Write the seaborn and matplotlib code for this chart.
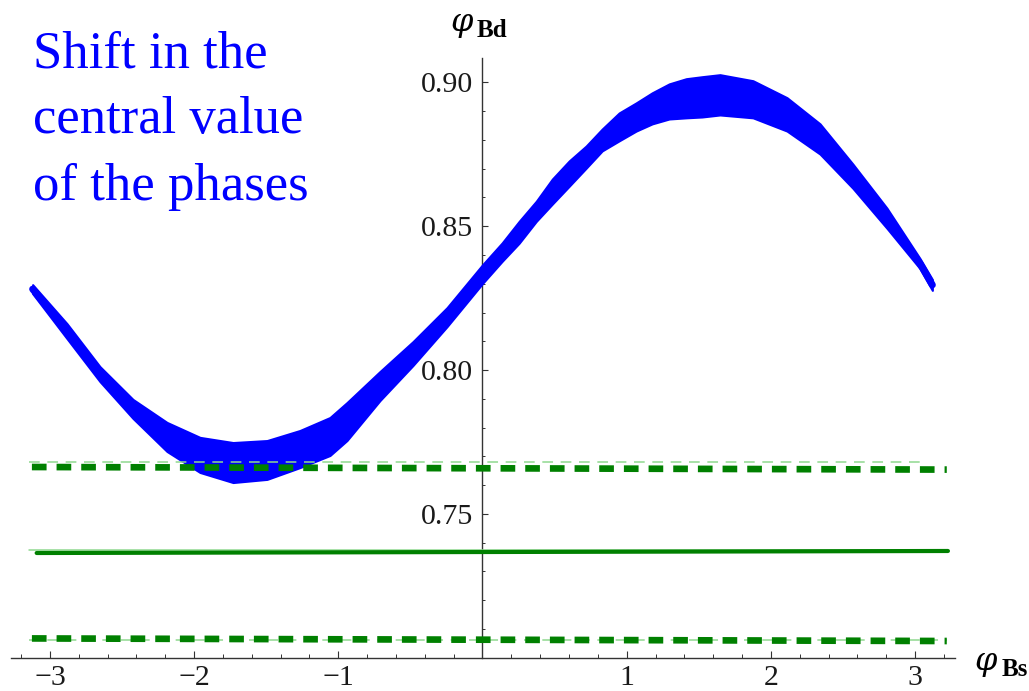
import numpy as np
import pandas as pd
import matplotlib
matplotlib.use("Agg")
import matplotlib.pyplot as plt
import matplotlib.transforms as mtransforms
import seaborn as sns
from matplotlib.ticker import FixedLocator, MultipleLocator, FormatStrFormatter

# ---- data ----
phi_bs = [-3.12, -2.881, -2.653, -2.424, -2.188, -1.959, -1.730, -1.494, -1.266, -1.058,
          -0.940, -0.711, -0.482, -0.246, 0.0, 0.136, 0.254, 0.373, 0.484, 0.601,
          0.719, 0.830, 0.948, 1.066, 1.177, 1.295, 1.413, 1.524, 1.647, 1.876,
          2.112, 2.341, 2.569, 2.805, 3.034, 3.12]
phi_bd_upper = [0.8297, 0.8161, 0.8012, 0.7898, 0.7818, 0.7766, 0.7748, 0.7755, 0.7790, 0.7835,
                0.7887, 0.7995, 0.8099, 0.8217, 0.8366, 0.8442, 0.8517, 0.8587, 0.8664, 0.8727,
                0.8779, 0.8838, 0.8894, 0.8929, 0.8964, 0.8995, 0.9013, 0.9020, 0.9027, 0.9006,
                0.8947, 0.8856, 0.8716, 0.8563, 0.8388, 0.8315]
phi_bd_lower = [0.8266, 0.8109, 0.7960, 0.7832, 0.7717, 0.7644, 0.7609, 0.7620, 0.7661, 0.7703,
                0.7755, 0.7894, 0.8016, 0.8151, 0.8301, 0.8378, 0.8441, 0.8517, 0.8577, 0.8639,
                0.8702, 0.8762, 0.8797, 0.8831, 0.8856, 0.8873, 0.8877, 0.8880, 0.8887, 0.8877,
                0.8831, 0.8751, 0.8632, 0.8493, 0.8353, 0.8277]

limit_x = [-3.125, 3.22]
upper_limit = [0.7663, 0.7654]
lower_limit = [0.7067, 0.7058]
central_x = [-3.092, 3.228]
central_value = [0.7364, 0.7371]

light_upper_x = [-3.146, 3.068]
light_upper = [0.7682, 0.7682]
light_lower_x = [-3.146, 3.22]
light_lower = [0.7062, 0.7062]
light_central_x = [-3.146, 3.22]
light_central = [0.7373, 0.7373]

x_major = [-3, -2, -1, 1, 2, 3]
x_labels = ["\u22123", "\u22122", "\u22121", "1", "2", "3"]
y_major = [0.75, 0.80, 0.85, 0.90]

note_lines = ["Shift in the", "central value", "of the phases"]

# ---- styling ----
sns.set_style("white")
plt.rcParams["font.family"] = ["Liberation Serif", "DejaVu Serif"]

W, H = 1029, 691
fig = plt.figure(figsize=(W / 100, H / 100), dpi=100)
ax = fig.add_axes([11 / W, 1 - 657.7 / H, 944 / W, (657.7 - 58) / H])
ax.set_xlim(-3.27, 3.277)
ax.set_ylim(0.70, 0.9085)

BLUE = "#0000ff"
GREEN = "#008000"
LIGHT = "#8fd88f"
AXC = "#333333"

df = pd.DataFrame({"x": phi_bs, "up": phi_bd_upper, "lo": phi_bd_lower})
df["mid"] = (df["up"] + df["lo"]) / 2
ax.fill_between(df["x"], df["lo"], df["up"], color=BLUE, edgecolor=BLUE, lw=1.5,
                joinstyle="round", zorder=2)
sns.lineplot(data=df, x="x", y="mid", ax=ax, color=BLUE, lw=5, solid_capstyle="round",
             sort=False, estimator=None, zorder=2)

# light thin lines
ax.plot(light_central_x, light_central, color=LIGHT, lw=1.1, zorder=3)
ax.plot(light_upper_x, light_upper, color=LIGHT, lw=1.1, ls=(0, (7, 5)), zorder=4)
ax.plot(light_lower_x, light_lower, color=LIGHT, lw=1.1, ls=(0, (7, 5)), zorder=3)

# thick green lines
dash = (0, (2.2, 1.5))
ax.plot(limit_x, upper_limit, color=GREEN, lw=4.8, ls=dash, dash_capstyle="butt", zorder=3)
ax.plot(limit_x, lower_limit, color=GREEN, lw=4.8, ls=dash, dash_capstyle="butt", zorder=4)
sns.lineplot(x=central_x, y=central_value, ax=ax, color=GREEN, lw=3, zorder=3)

# axes through origin
for s in ["top", "right"]:
    ax.spines[s].set_visible(False)
ax.spines["left"].set_position(("data", 0))
for s in ["left", "bottom"]:
    ax.spines[s].set_color(AXC)
    ax.spines[s].set_linewidth(1.0)
    ax.spines[s].set_zorder(1)

ax.xaxis.set_major_locator(FixedLocator(x_major))
ax.xaxis.set_minor_locator(MultipleLocator(0.2))
ax.yaxis.set_major_locator(FixedLocator(y_major))
ax.yaxis.set_minor_locator(MultipleLocator(0.01))
ax.yaxis.set_major_formatter(FormatStrFormatter("%.2f"))

ax.tick_params(axis="both", which="both", bottom=True, left=True, top=False, right=False,
               direction="in", colors=AXC)
ax.tick_params(axis="x", which="major", length=5, width=0.8, labelbottom=False)
ax.tick_params(axis="x", which="minor", length=3, width=0.7)
ax.tick_params(axis="y", which="major", length=4.2, width=0.8, pad=7,
               labelsize=21.5, labelcolor="#1a1a1a")
ax.tick_params(axis="y", which="minor", length=2.5, width=0.7)
ax.set_xlabel("")
ax.set_ylabel("")
ax.grid(False)

# x tick labels (kept just inside the canvas)
xtrans = mtransforms.blended_transform_factory(ax.transData, ax.transAxes)
for v, lab in zip(x_major, x_labels):
    ax.annotate(lab, xy=(v, 0), xycoords=xtrans, xytext=(0, -19.6),
                textcoords="offset points", ha="center", va="baseline",
                fontsize=21.5, color="#1a1a1a", annotation_clip=False)

# axis labels (curly phi from DejaVu Serif)
fig.text(450 / W, 1 - 31 / H, "\u03c6", ha="left", va="baseline", fontsize=23,
         family="DejaVu Serif", fontstyle="italic", color="black")
fig.text(477 / W, 1 - 37 / H, "Bd", ha="left", va="baseline", fontsize=18,
         fontweight="bold", color="black")
fig.text(974 / W, 1 - 670 / H, "\u03c6", ha="left", va="baseline", fontsize=23,
         family="DejaVu Serif", fontstyle="italic", color="black")
fig.text(1002 / W, 1 - 676 / H, "Bs", ha="left", va="baseline", fontsize=18,
         fontweight="bold", color="black")

# annotation text
for i, line in enumerate(note_lines):
    fig.text(33 / W, 1 - (67 + 66.5 * i) / H, line, ha="left", va="baseline",
             fontsize=38, color=BLUE)

fig.savefig("out.png", dpi=100)
